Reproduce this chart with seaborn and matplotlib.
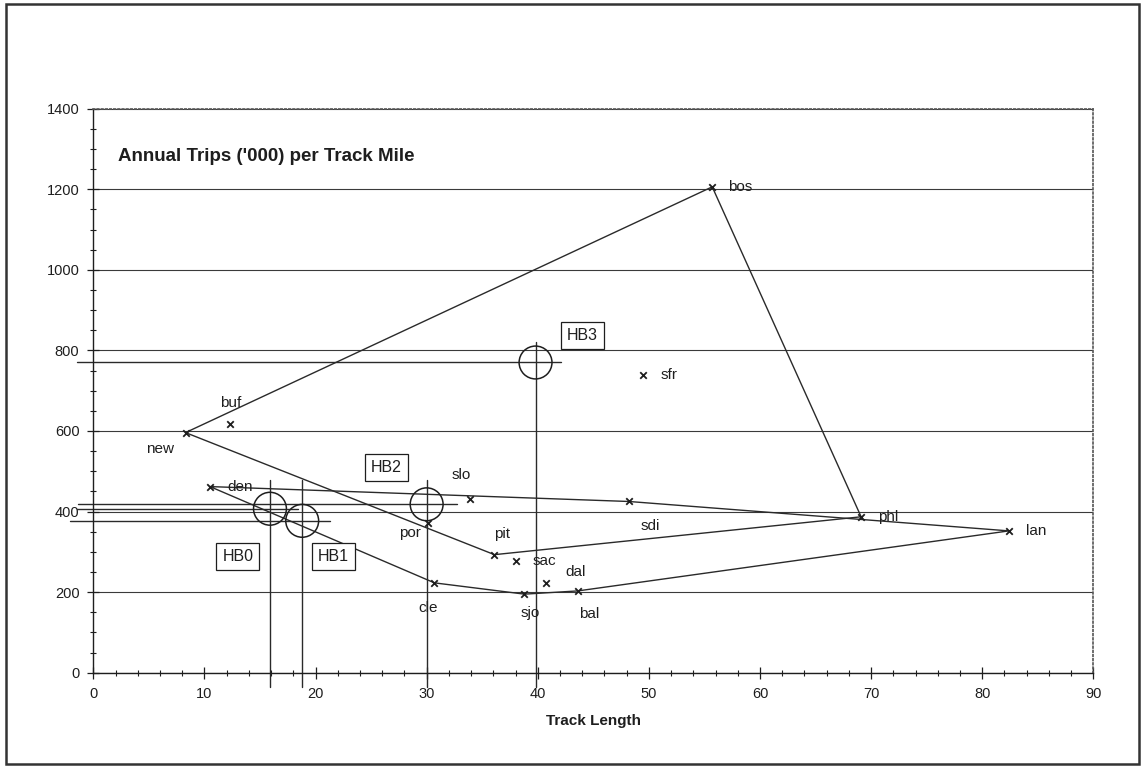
import numpy as np
import pandas as pd
import matplotlib
matplotlib.use("Agg")
import matplotlib.pyplot as plt
import seaborn as sns
from matplotlib.ticker import MultipleLocator
from matplotlib.patches import Rectangle

# city points
cities = ['new', 'buf', 'bos', 'phl', 'lan', 'den', 'sdi', 'slo',
          'por', 'pit', 'sac', 'dal', 'cle', 'sjo', 'bal', 'sfr']
track = [8.3, 12.3, 55.7, 69.1, 82.4, 10.5, 48.2, 33.9,
         30.1, 36.1, 38.0, 40.7, 30.7, 38.8, 43.6, 49.5]
trips = [596, 618, 1206, 387, 352, 462, 425, 431,
         372, 293, 277, 222, 223, 195, 203, 739]

# the two outlines joining some of the cities
outer_path = ['new', 'bos', 'phl', 'pit', 'new']
inner_path = ['den', 'sdi', 'lan', 'bal', 'sjo', 'cle', 'den']

# HB points with their cross lines
hb_names = ['HB0', 'HB1', 'HB2', 'HB3']
hb_x = [15.9, 18.8, 30.0, 39.8]
hb_y = [407, 377, 418, 770]
hb_x_left = [-1.5, -2.1, -1.4, -1.5]
hb_x_right = [18.4, 21.3, 32.7, 42.1]
hb_y_low = [-35, -35, -35, -35]
hb_y_high = [478, 478, 478, 821]
hb_label_x = [13.0, 21.6, 26.4, 44.0]
hb_label_y = [288, 288, 510, 838]

# label offsets in pixels (dx, dy, alignment)
label_offsets = {
    'new': (-25, -16, 'center'), 'buf': (1, 21, 'center'), 'bos': (16, 0, 'left'),
    'phl': (17, 0, 'left'), 'lan': (17, 0, 'left'), 'den': (17, 0, 'left'),
    'sdi': (21, -25, 'center'), 'slo': (-9, 24, 'center'), 'por': (-18, -10, 'center'),
    'pit': (8, 21, 'center'), 'sac': (17, 0, 'left'), 'dal': (30, 11, 'center'),
    'cle': (-6, -25, 'center'), 'sjo': (6, -19, 'center'), 'bal': (11, -23, 'center'),
    'sfr': (17, 0, 'left'),
}

df = pd.DataFrame({'city': cities, 'track': track, 'trips': trips}).set_index('city')
outer = df.loc[outer_path].reset_index()
inner = df.loc[inner_path].reset_index()
hb = pd.DataFrame({'name': hb_names, 'x': hb_x, 'y': hb_y})

sns.set_theme(style='white')
plt.rcParams['font.family'] = ['Liberation Sans', 'DejaVu Sans']
ink = '#1e1e1e'

fig = plt.figure(figsize=(11.42, 7.66), dpi=100)
ax = fig.add_axes([0.0817, 0.1218, 0.8757, 0.7363])

for path in (outer, inner):
    sns.lineplot(data=path, x='track', y='trips', sort=False, estimator=None,
                 color='#2a2a2a', linewidth=1.0, ax=ax)

sns.scatterplot(data=df.reset_index(), x='track', y='trips', marker='x', s=22,
                color=ink, linewidth=1.3, ax=ax, zorder=4)

for name, row in df.iterrows():
    dx, dy, ha = label_offsets[name]
    ax.annotate(name, (row['track'], row['trips']), xytext=(dx * 0.72, dy * 0.72),
                textcoords='offset points', ha=ha, va='center', fontsize=11, color=ink)

# HB crosses
for i in range(len(hb_names)):
    ax.plot([hb_x_left[i], hb_x_right[i]], [hb_y[i], hb_y[i]], color='#2a2a2a',
            lw=1.0, clip_on=False)
    ax.plot([hb_x[i], hb_x[i]], [hb_y_low[i], hb_y_high[i]], color='#2a2a2a',
            lw=1.0, clip_on=False)
    ax.text(hb_label_x[i], hb_label_y[i], hb_names[i], ha='center', va='center',
            fontsize=11.5, color=ink,
            bbox=dict(boxstyle='square,pad=0.38', fc='white', ec=ink, lw=0.9))
sns.scatterplot(data=hb, x='x', y='y', marker='o', s=560, facecolor='none',
                edgecolor=ink, linewidth=1.1, ax=ax, zorder=5)

ax.set_xlim(0, 90)
ax.set_ylim(0, 1400)
ax.xaxis.set_major_locator(MultipleLocator(10))
ax.xaxis.set_minor_locator(MultipleLocator(2))
ax.yaxis.set_major_locator(MultipleLocator(200))
ax.yaxis.set_minor_locator(MultipleLocator(50))
ax.tick_params(which='major', direction='inout', length=8, width=0.9, color=ink,
               labelsize=10.5, labelcolor=ink, pad=6, bottom=True, left=True)
ax.tick_params(which='minor', direction='inout', length=5, width=0.8, color=ink,
               bottom=True, left=True)
ax.yaxis.grid(True, color='#3a3a3a', linewidth=0.8)
ax.set_axisbelow(True)

for side in ('left', 'bottom'):
    ax.spines[side].set_color(ink)
    ax.spines[side].set_linewidth(1.0)
for side in ('top', 'right'):
    ax.spines[side].set_color('#555555')
    ax.spines[side].set_linewidth(1.2)
    ax.spines[side].set_linestyle((0, (1, 1.5)))

ax.set_xlabel('Track Length', fontsize=11, fontweight='bold', color=ink, labelpad=10)
ax.set_ylabel('')
ax.text(0.025, 0.915, "Annual Trips ('000) per Track Mile", transform=ax.transAxes,
        fontsize=13.5, fontweight='bold', color=ink, ha='left', va='center')

fig.patches.append(Rectangle((0.005, 0.003), 0.992, 0.992, transform=fig.transFigure,
                             fill=False, ec='#333333', lw=1.8))

fig.savefig('out.png', dpi=100)
